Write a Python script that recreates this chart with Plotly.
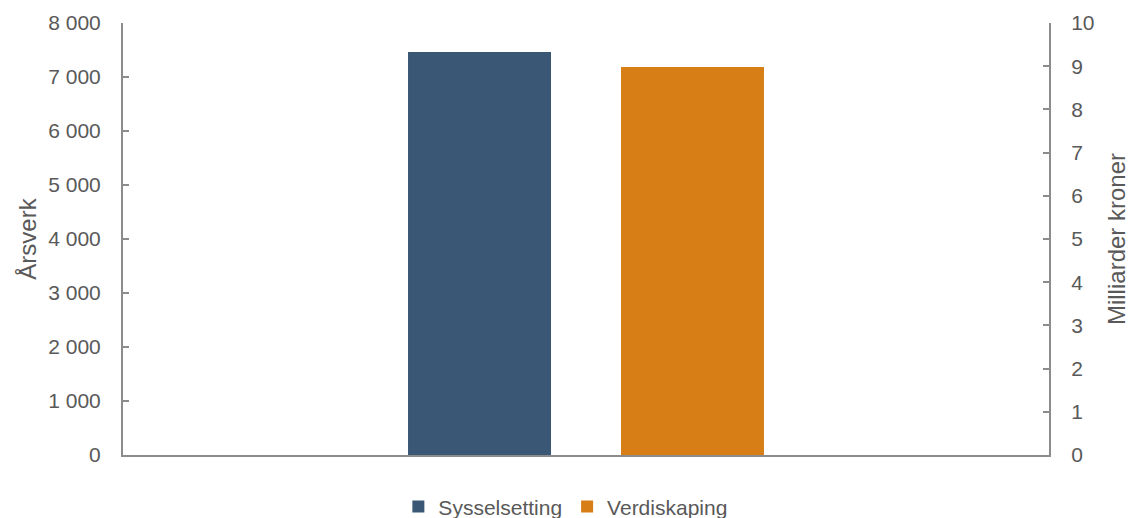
import plotly.graph_objects as go

category = [""]
series_names = ["Sysselsetting", "Verdiskaping"]
sysselsetting = [7465]      # årsverk (left axis)
verdiskaping = [8.98]       # milliarder kroner (right axis)
left_ticks = [0, 1000, 2000, 3000, 4000, 5000, 6000, 7000, 8000]
right_ticks = [0, 1, 2, 3, 4, 5, 6, 7, 8, 9, 10]

FONT = "Liberation Sans"
GREY = "#595959"
LINE = "#8c8c8c"
TICK_SIZE = 21
TITLE_SIZE = 24

fig = go.Figure()
fig.add_trace(go.Bar(
    x=category, y=sysselsetting, name=series_names[0],
    marker=dict(color="#3a5876", line=dict(width=0)),
    width=0.1544, offset=-0.1922, yaxis="y",
))
fig.add_trace(go.Bar(
    x=category, y=verdiskaping, name=series_names[1],
    marker=dict(color="#d77e17", line=dict(width=0)),
    width=0.1544, offset=0.0378, yaxis="y2",
))

fig.update_layout(
    width=1126, height=510,
    margin=dict(l=115, r=85, t=15, b=63, autoexpand=False),
    plot_bgcolor="white", paper_bgcolor="white",
    separators=", ",
    font=dict(family=FONT, color=GREY, size=TICK_SIZE),
    showlegend=True,
    legend=dict(orientation="h", x=0.495, xanchor="center", xref="container",
                y=0.022, yanchor="middle", yref="container",
                font=dict(size=TICK_SIZE, color=GREY), itemwidth=30,
                traceorder="normal"),
    xaxis=dict(range=[-0.5, 0.5], showline=True, linecolor=LINE, linewidth=2,
               showticklabels=False, ticks="", showgrid=False, zeroline=False,
               fixedrange=True),
    yaxis=dict(range=[0, 8000], tickvals=left_ticks, tickformat=",d",
               showline=True, linecolor=LINE, linewidth=2,
               ticks="inside", ticklen=6, tickcolor=LINE, tickwidth=2,
               showgrid=False, zeroline=False, ticklabelstandoff=16,
               tickfont=dict(size=TICK_SIZE, color=GREY),
               title=dict(text="Årsverk", font=dict(size=TITLE_SIZE, color=GREY), standoff=5),
               automargin=False),
    yaxis2=dict(range=[0, 10], tickvals=right_ticks, overlaying="y", side="right",
                showline=True, linecolor=LINE, linewidth=2,
                ticks="inside", ticklen=6, tickcolor=LINE, tickwidth=2,
                showgrid=False, zeroline=False, ticklabelstandoff=16,
                tickfont=dict(size=TICK_SIZE, color=GREY),
                title=dict(text="Milliarder kroner", font=dict(size=TITLE_SIZE, color=GREY), standoff=15),
                automargin=False),
)

fig.write_html("out.html")
